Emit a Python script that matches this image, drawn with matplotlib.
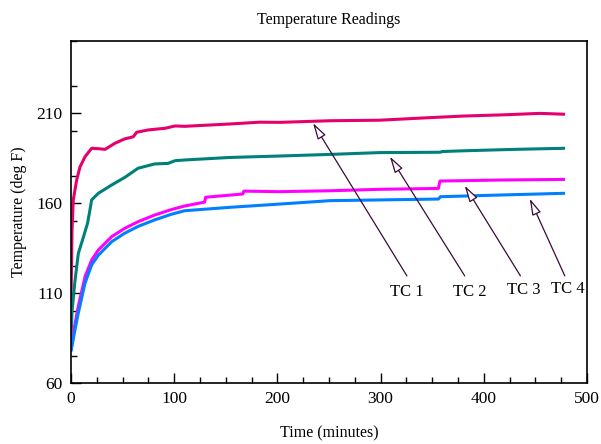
import matplotlib
matplotlib.use("Agg")
import matplotlib.pyplot as plt
from matplotlib.ticker import MultipleLocator

plt.rcParams['font.family'] = ['Liberation Serif', 'DejaVu Serif']

# Time (minutes) and temperature (deg F)
tc1_t = [0, 0.5, 1, 2.2, 5.5, 8.7, 13.6, 20, 26, 33, 42.6, 52, 60.4, 63.6, 75, 91, 100.8, 110,
         154, 183, 202.5, 251, 299, 340, 380, 420, 454.5, 478.7]
tc1_y = [104, 125, 145, 161.7, 172.8, 180, 185.7, 190.4, 190.2, 189.8, 193.2, 195.6, 196.8, 199.3,
         200.6, 201.5, 202.8, 202.6, 203.9, 204.9, 204.8, 205.7, 206, 207.2, 208.3, 209, 209.8, 209.3]

tc2_t = [0, 1, 3.9, 7.1, 12, 16, 18, 20, 26.5, 39.4, 52.3, 65, 81, 94, 100.8, 110, 154, 202, 251,
         299, 357.6, 360, 380, 430, 478.7]
tc2_y = [84, 100, 117, 132, 141, 148.7, 155, 161.7, 165.4, 170, 174.3, 179.3, 181.7, 182, 183.5,
         183.9, 185.3, 186.1, 187, 188, 188.2, 188.6, 189, 189.8, 190.4]

tc3_t = [0, 3, 7, 13.6, 20, 26.5, 39.4, 52.3, 65, 81, 97.6, 110, 129.5, 130.5, 166.5, 167.5, 202,
         251, 299, 356, 357.5, 420, 478.7]
tc3_y = [78.3, 90, 102.4, 119, 128.3, 133.9, 141.3, 146, 149.6, 153.3, 156.4, 158.3, 160.5, 163.2,
         165, 166.6, 166.3, 166.8, 167.6, 168.1, 172.2, 172.8, 173.1]

tc4_t = [0, 3, 7, 13.6, 20, 26.5, 39.4, 52, 65, 81, 97.6, 110, 154, 202, 251, 299, 356, 358, 420,
         478.7]
tc4_y = [77.5, 87, 98.7, 115.5, 125.6, 131, 138.5, 143.2, 147, 150.6, 153.8, 155.7, 157.6, 159.4,
         161.3, 161.7, 162.2, 163.5, 164.5, 165.4]

labels = ["TC 1", "TC 2", "TC 3", "TC 4"]
label_pos = [(325.5, 110.6), (386.6, 110.4), (439, 111.7), (481.6, 112.1)]
arrow_tail = [(325.5, 119.5), (381.5, 119.5), (435.5, 119.5), (478.5, 119.5)]
arrow_head = [(234.5, 204.4), (309, 185.8), (381.5, 169.6), (444.5, 162.4)]

colors = ['#E6006E', '#00807A', '#FF00FF', '#0080FF']

fig = plt.figure(figsize=(6.01, 4.44), dpi=100)
ax = fig.add_axes([71/601, 61/444, 516/601, 342/444])

for t, y, c in zip([tc1_t, tc2_t, tc3_t, tc4_t], [tc1_y, tc2_y, tc3_y, tc4_y], colors):
    ax.plot(t, y, color=c, lw=2.2, solid_capstyle='butt')

for lab, lp, tail, head in zip(labels, label_pos, arrow_tail, arrow_head):
    ax.annotate('', xy=head, xytext=tail,
                arrowprops=dict(arrowstyle='-|>,head_length=1.0,head_width=0.28',
                                fc='white', ec='#3A0A3A', lw=0.9, shrinkA=0, shrinkB=0))
    ax.text(lp[0], lp[1], lab, ha='center', va='center', fontsize=12, color='black')

ax.set_xlim(0, 500)
ax.set_ylim(60, 250)
ax.xaxis.set_major_locator(MultipleLocator(100))
ax.xaxis.set_minor_locator(MultipleLocator(25))
ax.set_yticks([60, 110, 160, 210])
ax.yaxis.set_minor_locator(MultipleLocator(25))
ax.tick_params(which='both', direction='in', top=False, right=False, labelsize=12.5, width=1)
ax.tick_params(which='major', length=7, pad=6)
ax.tick_params(which='minor', length=4)
for s in ax.spines.values():
    s.set_linewidth(1.2)

ax.set_title("Temperature Readings", fontsize=11.5, pad=12)
ax.set_xlabel("Time (minutes)", fontsize=11.5, labelpad=13)
ax.set_ylabel("Temperature (deg F)", fontsize=11.5, labelpad=7)

fig.savefig("out.png", dpi=100)
